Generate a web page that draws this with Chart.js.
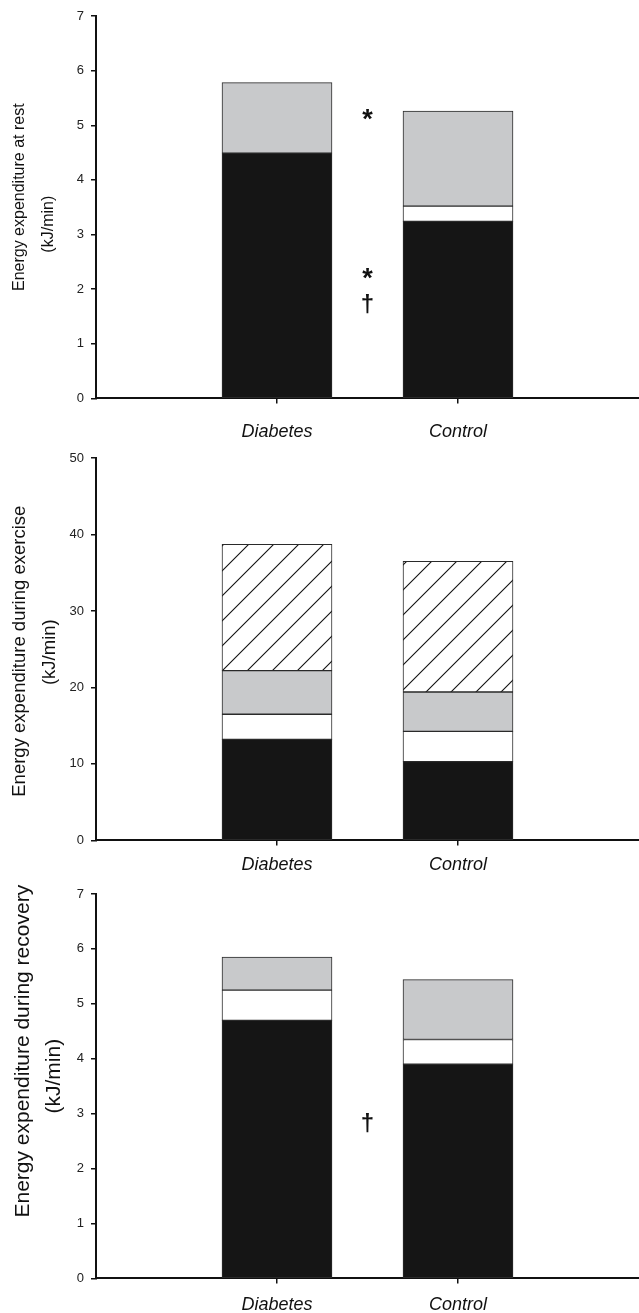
<!DOCTYPE html>
<html>
<head>
<meta charset="utf-8">
<script src="https://cdn.jsdelivr.net/npm/chart.js@4/dist/chart.umd.min.js"></script>
<style>
  html, body { margin: 0; padding: 0; background: #fff; overflow: hidden; }
  .panel { position: absolute; left: 0; }
</style>
</head>
<body>
<div class="panel" style="top:0px"><canvas id="rest" width="639" height="443"></canvas></div>
<div class="panel" style="top:443px"><canvas id="exercise" width="639" height="433"></canvas></div>
<div class="panel" style="top:876px"><canvas id="recovery" width="639" height="440"></canvas></div>
<script>
const groups = ["Diabetes", "Control"];

// at rest (kJ/min)
const restBlack = [4.49, 3.24];
const restWhite = [0, 0.28];
const restGrey = [1.29, 1.74];
const restMarks = ["*", "*", "\u2020"];
const restMarkAt = [5.2, 2.29, 1.7];

// during exercise (kJ/min)
const exBlack = [13.2, 10.3];
const exWhite = [3.3, 3.95];
const exGrey = [5.7, 5.15];
const exHatch = [16.5, 17.1];

// during recovery (kJ/min)
const recBlack = [4.7, 3.9];
const recWhite = [0.55, 0.45];
const recGrey = [0.6, 1.09];
const recMarks = ["\u2020"];
const recMarkAt = [2.8];

const fontFam = "'Liberation Sans', Arial, sans-serif";

hatch = () => {
  const c = document.createElement("canvas");
  c.width = 25;
  c.height = 25;
  const g = c.getContext("2d");
  g.fillStyle = "#fff";
  g.fillRect(0, 0, 25, 25);
  g.strokeStyle = "#111";
  g.lineWidth = 1.1;
  g.beginPath();
  g.moveTo(-2, 27); g.lineTo(27, -2);
  g.moveTo(-5, 5); g.lineTo(5, -5);
  g.moveTo(20, 30); g.lineTo(30, 20);
  g.stroke();
  return g.createPattern(c, "repeat");
};

// labels padded so the two bars sit at 1 and 2 on a 0..3 axis
pad = (arr) => [null, ...arr, null];

const marksPlugin = {
  id: "marks",
  afterDatasetsDraw(chart, args, opts) {
    if (!opts.symbols) return;
    const ctx = chart.ctx;
    const x = chart.scales.x.getPixelForValue(1.5);
    ctx.save();
    ctx.fillStyle = "#111";
    ctx.textAlign = "center";
    ctx.textBaseline = "middle";
    opts.symbols.forEach((s, i) => {
      const y = chart.scales.y.getPixelForValue(opts.values[i]);
      if (s === "*") {
        ctx.font = "bold 27px " + fontFam;
        ctx.fillText(s, x, y + 6);
      } else {
        ctx.font = "bold 24px " + fontFam;
        ctx.fillText(s, x, y);
      }
    });
    ctx.restore();
  },
};

// two-line rotated y title, each line nudged along the axis like the original
const yTitlePlugin = {
  id: "ytitle",
  afterDraw(chart, args, o) {
    const ctx = chart.ctx;
    const area = chart.chartArea;
    const mid = (area.top + area.bottom) / 2;
    ctx.save();
    ctx.fillStyle = "#111";
    ctx.textAlign = "center";
    ctx.textBaseline = "middle";
    ctx.font = o.size + "px " + fontFam;
    o.lines.forEach((t, i) => {
      ctx.save();
      ctx.translate(o.x[i], mid + o.shift[i]);
      ctx.rotate(-Math.PI / 2);
      ctx.fillText(t, 0, 0);
      ctx.restore();
    });
    ctx.restore();
  },
};

makeChart = (id, sets, yMax, yStep, title, top, xPad, symbols, values) => {
  const colors = ["#151515", "#ffffff", "#c8c9cb", hatch()];
  const datasets = sets.map((d, i) => ({
    data: pad(d),
    backgroundColor: colors[i],
    borderColor: "#2a2a2a",
    borderWidth: 1,
    borderSkipped: false,
    barThickness: 110,
  }));
  return new Chart(document.getElementById(id), {
    type: "bar",
    data: { labels: ["", ...groups, ""], datasets: datasets },
    plugins: [marksPlugin, yTitlePlugin],
    options: {
      responsive: false,
      animation: false,
      devicePixelRatio: 1,
      // axis runs off the right edge in the original
      layout: { padding: { top: top, right: -5, bottom: 0, left: 0 } },
      plugins: {
        legend: { display: false },
        tooltip: { enabled: false },
        marks: { symbols: symbols, values: values },
        ytitle: title,
      },
      scales: {
        x: {
          stacked: true,
          offset: false,
          afterFit: (scale) => {
            scale.height = 5 + xPad + 21.6;
            scale.paddingLeft = 0;
            scale.paddingRight = 0;
          },
          border: { display: true, color: "#111", width: 2 },
          grid: {
            offset: false,
            drawOnChartArea: false,
            tickLength: 5,
            lineWidth: 1.5,
            tickColor: (ctx) => (ctx.index === 1 || ctx.index === 2 ? "#111" : "rgba(0,0,0,0)"),
          },
          ticks: {
            padding: xPad,
            maxRotation: 0,
            autoSkip: false,
            color: "#111",
            font: { family: fontFam, size: 18, style: "italic", lineHeight: 1.2 },
          },
        },
        y: {
          stacked: true,
          min: 0,
          max: yMax,
          afterFit: (scale) => { scale.width = 96; },
          border: { display: true, color: "#111", width: 2 },
          grid: { drawOnChartArea: false, tickLength: 5, lineWidth: 1.5, color: "#111" },
          ticks: {
            stepSize: yStep,
            padding: 7,
            color: "#222",
            font: { family: fontFam, size: 13 },
          },
        },
      },
    },
  });
};

makeChart("rest", [restBlack, restWhite, restGrey], 7, 1,
  { lines: ["Energy expenditure at rest", "(kJ/min)"], size: 16, x: [20, 49], shift: [-10, 17] },
  16, 18, restMarks, restMarkAt);
makeChart("exercise", [exBlack, exWhite, exGrey, exHatch], 50, 10,
  { lines: ["Energy expenditure during exercise", "(kJ/min)"], size: 18.5, x: [20, 50], shift: [2, 3] },
  15, 9, null, null);
makeChart("recovery", [recBlack, recWhite, recGrey], 7, 1,
  { lines: ["Energy expenditure during recovery", "(kJ/min)"], size: 21, x: [23.5, 54.5], shift: [-35, -10] },
  18, 11, recMarks, recMarkAt);
</script>
</body>
</html>
